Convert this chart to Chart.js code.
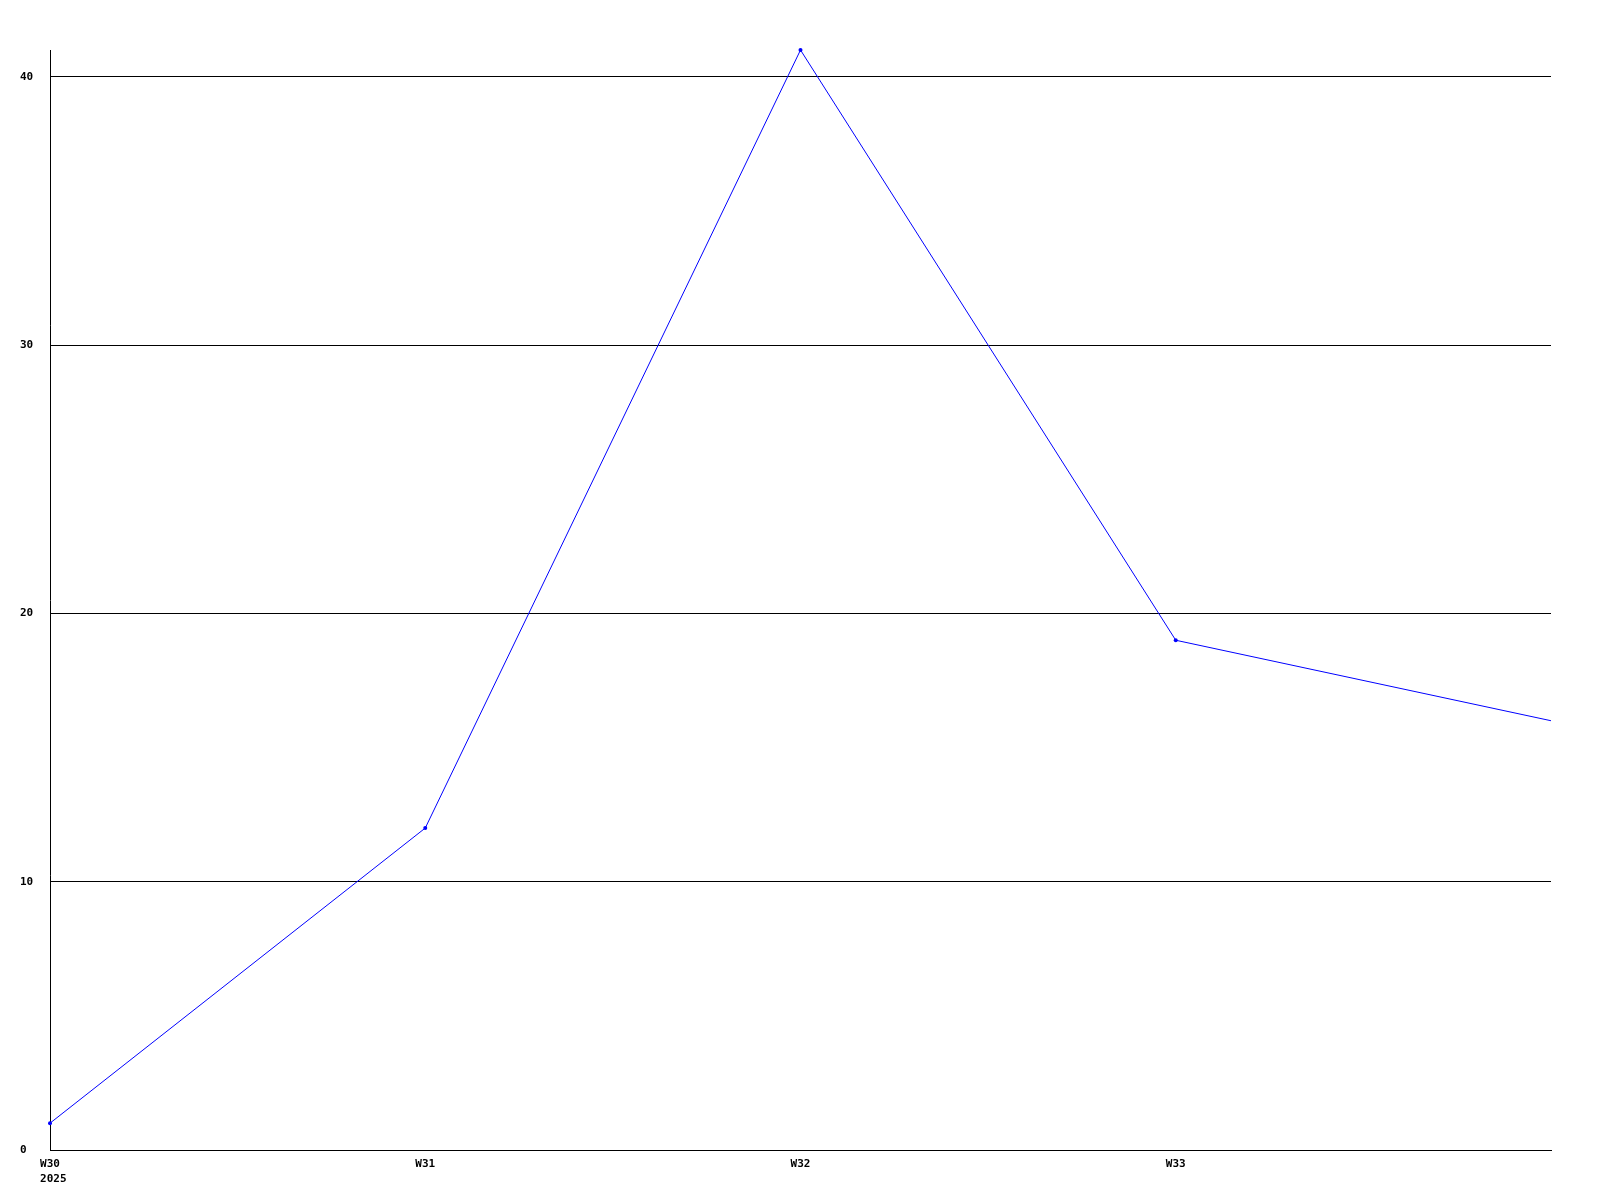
<!DOCTYPE html>
<html>
<head>
<meta charset="utf-8">
<script src="https://cdn.jsdelivr.net/npm/chart.js@4/dist/chart.umd.min.js"></script>
<style>
  html, body { margin: 0; padding: 0; background: #fff; }
  canvas { display: block; }
</style>
</head>
<body>
<canvas id="myChart" width="1600" height="1200"></canvas>
<script>
// weeks on the x axis, first one also gets the year below it
let weeks = ["W30", "W31", "W32", "W33", "W34"];
let yearLabel = "2025";
let values = [1, 12, 41, 19, 16];
let yTicks = [0, 10, 20, 30, 40];

var tickFont = { family: "'DejaVu Sans Mono', monospace", size: 11, weight: "bold", lineHeight: 1.4 };

var ctx = document.getElementById("myChart");
var lineChart = new Chart(ctx, {
  type: "line",
  data: {
    labels: weeks,
    datasets: [
      {
        label: "",
        data: values,
        borderColor: "#0000ff",
        backgroundColor: "#0000ff",
        borderWidth: 1,
        // last point sits on the edge and has no marker
        pointRadius: (c) => (c.dataIndex == values.length - 1 ? 0 : 2),
        pointBorderWidth: 0,
        tension: 0,
        clip: false,
      },
    ],
  },
  options: {
    responsive: false,
    animation: false,
    layout: {
      padding: { left: 20, top: 50, right: 49, bottom: 0 },
    },
    plugins: {
      legend: { display: false },
      tooltip: { enabled: false },
    },
    scales: {
      x: {
        offset: false,
        grid: { display: false, drawTicks: false },
        border: { display: true, color: "#000", width: 1 },
        afterFit: function (scale) {
          scale.height = 50;
        },
        ticks: {
          autoSkip: false,
          maxRotation: 0,
          padding: 6,
          color: "#000",
          font: tickFont,
          callback: function (val, index) {
            if (index == weeks.length - 1) return "";
            if (index == 0) return [weeks[0], " " + yearLabel];
            return weeks[index];
          },
        },
      },
      y: {
        min: 0,
        max: Math.max(...values),
        grid: { color: "#000", lineWidth: 1, drawTicks: false },
        border: { display: true, color: "#000", width: 1 },
        afterFit: function (scale) {
          scale.width = 30;
        },
        afterBuildTicks: function (scale) {
          scale.ticks = yTicks.map((v) => ({ value: v }));
        },
        ticks: {
          crossAlign: "far",
          padding: 17,
          color: "#000",
          font: tickFont,
        },
      },
    },
  },
});
</script>
</body>
</html>
